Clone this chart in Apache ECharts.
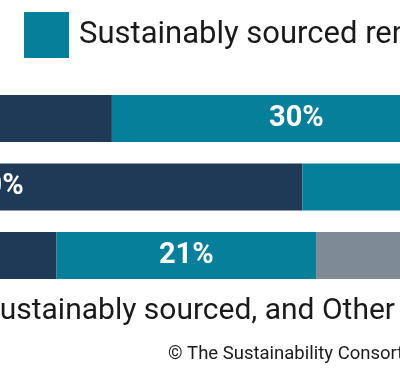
<!DOCTYPE html>
<html>
<head>
<meta charset="utf-8">
<script src="https://cdn.jsdelivr.net/npm/echarts@6/dist/echarts.min.js"></script>
<style>
html,body{margin:0;padding:0;background:#fff;}
#c{width:400px;height:372px;}
</style>
</head>
<body>
<div id="c"></div>
<script>
const categories = ["Group 1", "Group 2", "Group 3"];
const seriesNames = ["Certified", "Sustainably sourced renewable", "Other"];
const certified = [34.3, 49.8, 29.8];
const sustainable = [30, 30, 21.1];
const other = [35.7, 20.2, 49.1];
const axisTitle = "Share of Certified, Sustainably sourced, and Other";
const credit = "© The Sustainability Consortium";

const colors = ["#1e3a56", "#067f9a", "#7e8b97"];
const font = "Roboto, 'Noto Sans', sans-serif";

function mk(name, data, color) {
  return {
    name: name,
    type: 'bar',
    stack: 'total',
    data: data,
    barWidth: 47,
    itemStyle: { color: color },
    label: {
      show: true,
      position: 'inside',
      formatter: p => Math.round(p.value) + '%',
      color: '#fff',
      fontFamily: font,
      fontWeight: 'bold',
      fontSize: 29
    }
  };
}

const chart = echarts.init(document.getElementById('c'));
chart.setOption({
  animation: false,
  backgroundColor: '#fff',
  legend: {
    data: [seriesNames[1], seriesNames[2]],
    left: 24,
    top: 12,
    width: 3000,
    padding: 0,
    icon: 'rect',
    itemWidth: 45,
    itemHeight: 46,
    itemGap: 30,
    textStyle: { fontFamily: font, fontSize: 31, color: '#1a1a1a', padding: [0, 0, 0, 5] }
  },
  title: [
    { text: axisTitle, right: 5, top: 296, padding: 0,
      textStyle: { fontFamily: font, fontSize: 30, fontWeight: 'normal', color: '#1a1a1a' } },
    { text: credit, left: 168, top: 345, padding: 0,
      textStyle: { fontFamily: font, fontSize: 18.5, fontWeight: 'normal', color: '#1a1a1a' } }
  ],
  grid: { left: -310, width: 1230, top: 84.25, height: 205.5, containLabel: false, outerBoundsMode: 'none' },
  xAxis: { type: 'value', min: 0, max: 100, show: false },
  yAxis: { type: 'category', data: categories, inverse: true, show: false },
  series: [
    mk(seriesNames[0], certified, colors[0]),
    mk(seriesNames[1], sustainable, colors[1]),
    mk(seriesNames[2], other, colors[2])
  ]
});
</script>
</body>
</html>
